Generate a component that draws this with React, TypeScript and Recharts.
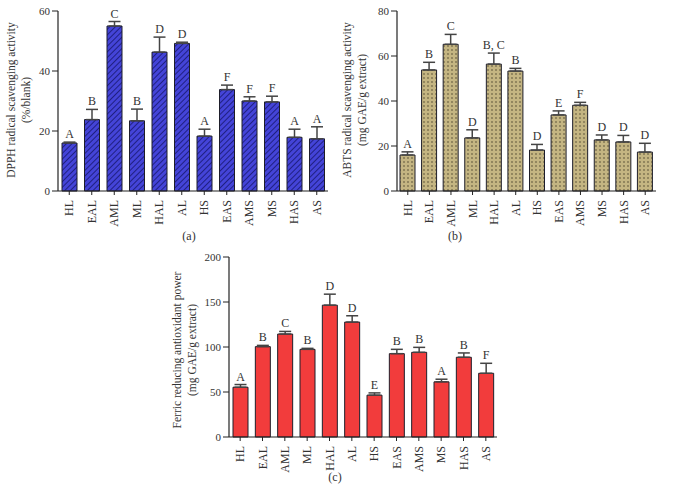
import React from "react"
import { BarChart, Bar, XAxis, YAxis, ErrorBar, LabelList } from "recharts"

const samples = ["HL", "EAL", "AML", "ML", "HAL", "AL", "HS", "EAS", "AMS", "MS", "HAS", "AS"]

// (a) DPPH
const dpphValues = [16, 23.8, 55, 23.4, 46.3, 49.2, 18.3, 33.8, 30, 29.7, 17.9, 17.4]
const dpphErrors = [0.3, 3.4, 1.5, 3.9, 5, 0.4, 2.3, 1.5, 1.4, 1.9, 2.7, 4]
const dpphLetters = ["A", "B", "C", "B", "D", "D", "A", "F", "F", "F", "A", "A"]
const dpphTicks = [0, 20, 40, 60]

// (b) ABTS
const abtsValues = [16, 53.8, 65.2, 23.6, 56.4, 53.3, 18.2, 33.8, 38.1, 22.7, 21.8, 17.3]
const abtsErrors = [1.4, 3.4, 4.4, 3.6, 4.9, 1.2, 2.5, 1.8, 1.3, 2.2, 2.9, 3.9]
const abtsLetters = ["A", "B", "C", "D", "B, C", "B", "D", "E", "F", "D", "D", "D"]
const abtsTicks = [0, 20, 40, 60, 80]

// (c) FRAP
const frapValues = [55.3, 100.4, 114.4, 97.4, 146.5, 127.7, 46.5, 92.6, 94.1, 61.3, 88.6, 70.8]
const frapErrors = [3, 1.4, 2.9, 1.1, 12.2, 7, 2.5, 4.8, 5.5, 2.9, 4.8, 11.1]
const frapLetters = ["A", "B", "C", "B", "D", "D", "E", "B", "B", "A", "B", "F"]
const frapTicks = [0, 50, 100, 150, 200]

const FONT = "Liberation Serif, serif"
const TEXT = "#333"
const AXIS = "#222"

const build = (values: number[], errors: number[], letters: string[]) =>
  samples.map((name, i) => ({
    name,
    value: values[i],
    err: [0, errors[i]],
    up: errors[i],
    letter: letters[i],
  }))

const XTick = (props: any) => {
  const { x, y, payload } = props
  return (
    <g transform={`translate(${x},${y + 3}) rotate(-90)`}>
      <text x={0} y={0} dy={4} textAnchor="end" fontFamily={FONT} fontSize={12} fill={TEXT}>
        {payload.value}
      </text>
    </g>
  )
}

// letter above the error bar, placed with the bar's own px-per-unit
const letterContent = (rows: any[]) => (props: any) => {
  const { x, y, width, height, index } = props
  const row = rows[index]
  const ppu = height / row.value
  const top = y - row.up * ppu
  return (
    <text x={x + width / 2} y={top - 4} textAnchor="middle" fontFamily={FONT} fontSize={12} fill={TEXT}>
      {row.letter}
    </text>
  )
}

const yLabel = (lines: string[], cx: number, cy: number) => () => (
  <text transform={`rotate(-90, ${cx}, ${cy})`} x={cx} y={cy} textAnchor="middle" fontFamily={FONT} fontSize={11.5} fill={TEXT}>
    <tspan x={cx} dy={0}>{lines[0]}</tspan>
    <tspan x={cx} dy={15}>{lines[1]}</tspan>
  </text>
)

interface PanelProps {
  rows: any[]
  ticks: number[]
  fill: string
  width: number
  height: number
  margin: { top: number; right: number; bottom: number; left: number }
  label: () => React.ReactElement
}

function Panel({ rows, ticks, fill, width, height, margin, label }: PanelProps) {
  return (
    <BarChart width={width} height={height} data={rows} margin={margin} barCategoryGap={0}>
      <XAxis
        dataKey="name"
        interval={0}
        height={40}
        tick={(p: any) => <XTick {...p} />}
        tickSize={4}
        stroke={AXIS}
        axisLine={{ stroke: AXIS, strokeWidth: 1.2 }}
        tickLine={{ stroke: AXIS }}
      />
      <YAxis
        width={30}
        domain={[ticks[0], ticks[ticks.length - 1]]}
        ticks={ticks}
        interval={0}
        tickSize={6}
        stroke={AXIS}
        axisLine={{ stroke: AXIS, strokeWidth: 1.2 }}
        tick={{ fontFamily: FONT, fontSize: 11, fill: TEXT }}
        label={{ content: label }}
      />
      <Bar dataKey="value" fill={fill} stroke="#1e1e2a" strokeWidth={1} barSize={15} isAnimationActive={false}>
        <ErrorBar dataKey="err" width={6} stroke="#444" strokeWidth={1.5} />
        <LabelList dataKey="letter" content={letterContent(rows)} />
      </Bar>
    </BarChart>
  )
}

const caption: React.CSSProperties = {
  position: "absolute",
  fontFamily: FONT,
  fontSize: 12,
  color: TEXT,
  transform: "translateX(-50%)",
}

export default function App() {
  const dpph = build(dpphValues, dpphErrors, dpphLetters)
  const abts = build(abtsValues, abtsErrors, abtsLetters)
  const frap = build(frapValues, frapErrors, frapLetters)

  return (
    <div style={{ position: "absolute", left: 0, top: 0, width: 674, height: 496, background: "#fff", overflow: "hidden" }}>
      <svg width={0} height={0} style={{ position: "absolute" }}>
        <defs>
          <pattern id="hatch" width={4} height={4} patternUnits="userSpaceOnUse" patternTransform="rotate(45)">
            <rect width={4} height={4} fill="#4444d8" />
            <line x1={0} y1={0} x2={0} y2={4} stroke="#1c1c78" strokeWidth={1.8} />
          </pattern>
          <pattern id="dots" width={4} height={4} patternUnits="userSpaceOnUse">
            <rect width={4} height={4} fill="#c4b582" />
            <circle cx={2} cy={2} r={0.7} fill="#3a3420" />
          </pattern>
        </defs>
      </svg>

      <div style={{ position: "absolute", left: 0, top: 0 }}>
        <Panel
          rows={dpph}
          ticks={dpphTicks}
          fill="url(#hatch)"
          width={340}
          height={240}
          margin={{ top: 11, right: 12, bottom: 9, left: 28 }}
          label={yLabel(["DPPH radical scavenging activity", "(%/blank)"], 15, 100)}
        />
      </div>
      <div style={{ position: "absolute", left: 330, top: 0 }}>
        <Panel
          rows={abts}
          ticks={abtsTicks}
          fill="url(#dots)"
          width={344}
          height={240}
          margin={{ top: 11, right: 18, bottom: 9, left: 37 }}
          label={yLabel(["ABTS radical scavenging activity", "(mg GAE/g extract)"], 21, 100)}
        />
      </div>
      <div style={{ position: "absolute", left: 150, top: 240 }}>
        <Panel
          rows={frap}
          ticks={frapTicks}
          fill="#f23c3c"
          width={380}
          height={256}
          margin={{ top: 17, right: 33, bottom: 19, left: 49 }}
          label={yLabel(["Ferric reducing antioxidant power", "(mg GAE/g extract)"], 31, 110)}
        />
      </div>

      <div style={{ ...caption, left: 189, top: 229 }}>(a)</div>
      <div style={{ ...caption, left: 455, top: 229 }}>(b)</div>
      <div style={{ ...caption, left: 335, top: 470 }}>(c)</div>
    </div>
  )
}
